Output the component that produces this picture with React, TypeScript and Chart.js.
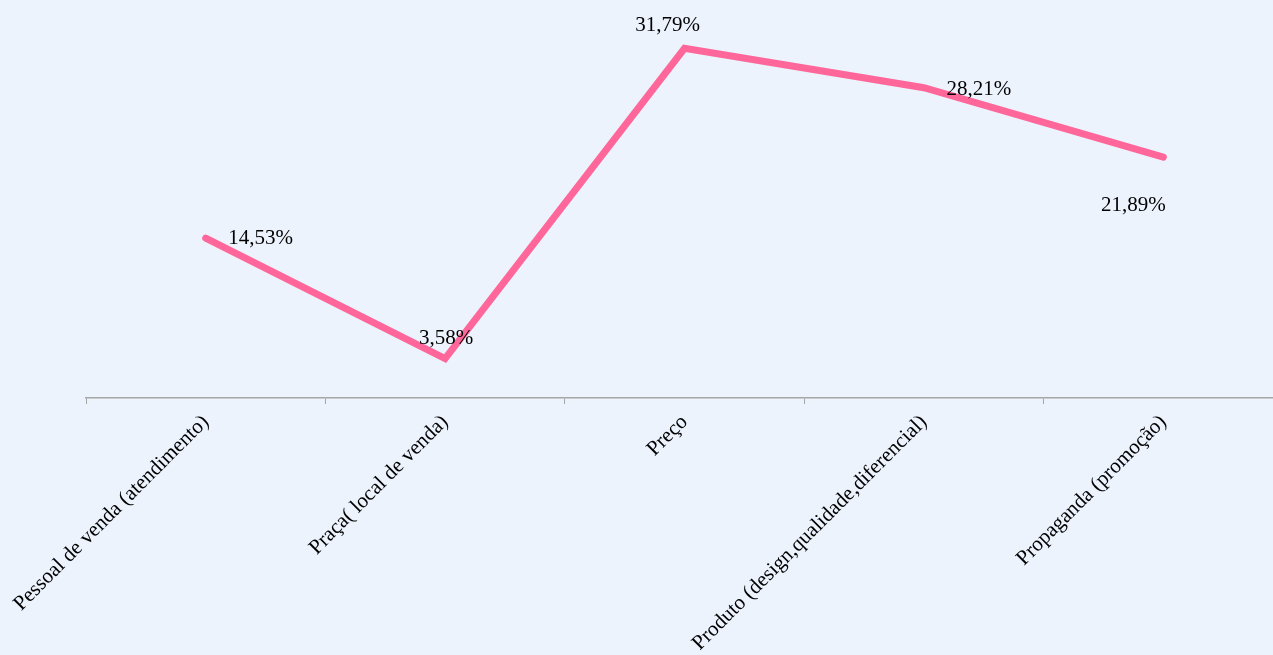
import React, { useEffect, useRef } from "react";
import { Chart, registerables } from "chart.js";

Chart.register(...registerables);

const categories: string[] = [
  "Pessoal de venda (atendimento)",
  "Praça( local de venda)",
  "Preço",
  "Produto (design,qualidade,diferencial)",
  "Propaganda (promoção)",
];
const values: number[] = [14.53, 3.58, 31.79, 28.21, 21.89];
const valueLabels: string[] = ["14,53%", "3,58%", "31,79%", "28,21%", "21,89%"];
// label placement offsets (px) relative to each point: [dx, dy]
const labelOffsets: [number, number][] = [
  [55, 0],
  [1, -20],
  [-17, -23],
  [55, 2],
  [-30, 48],
];

const FONT = "'Liberation Serif', 'Times New Roman', serif";

const dataLabelPlugin = {
  id: "dataLabels",
  afterDatasetsDraw(chart: any) {
    const ctx = chart.ctx;
    const meta = chart.getDatasetMeta(0);
    ctx.save();
    ctx.font = `21px ${FONT}`;
    ctx.fillStyle = "#000000";
    ctx.textAlign = "center";
    ctx.textBaseline = "middle";
    meta.data.forEach((pt: any, i: number) => {
      const [dx, dy] = labelOffsets[i];
      ctx.fillText(valueLabels[i], pt.x + dx, pt.y + dy);
    });
    ctx.restore();
  },
};

export default function App() {
  const ref = useRef<HTMLCanvasElement>(null);
  useEffect(() => {
    if (!ref.current) return;
    const chart = new Chart(ref.current, {
      type: "line",
      data: {
        labels: categories,
        datasets: [
          {
            data: values,
            borderColor: "#FF6699",
            borderWidth: 7,
            borderCapStyle: "round",
            borderJoinStyle: "miter",
            pointRadius: 0,
            tension: 0,
            fill: false,
            clip: false as any,
          },
        ],
      },
      options: {
        animation: false,
        responsive: true,
        maintainAspectRatio: false,
        layout: { padding: { left: 86, right: 0, top: 2, bottom: 0 } },
        plugins: { legend: { display: false }, tooltip: { enabled: false } },
        scales: {
          x: {
            offset: true,
            grid: {
              offset: true,
              drawOnChartArea: false,
              drawTicks: true,
              tickLength: 6,
              color: "#A6A6A6",
            },
            border: { display: true, color: "#A6A6A6", width: 1.5 },
            ticks: {
              minRotation: 45,
              maxRotation: 45,
              autoSkip: false,
              color: "#000000",
              font: { family: FONT, size: 21 },
              padding: 6,
            },
            afterFit: (scale: any) => {
              scale.height = 257;
            },
          },
          y: {
            display: false,
            min: 0,
            max: 36,
          },
        },
      },
      plugins: [dataLabelPlugin],
    });
    return () => chart.destroy();
  }, []);
  return (
    <div
      style={{
        position: "absolute",
        left: 0,
        top: 0,
        width: 1273,
        height: 655,
        overflow: "hidden",
        background: "#ECF3FD",
      }}
    >
      <div style={{ position: "relative", width: 1283, height: 655 }}>
        <canvas ref={ref} />
      </div>
    </div>
  );
}
